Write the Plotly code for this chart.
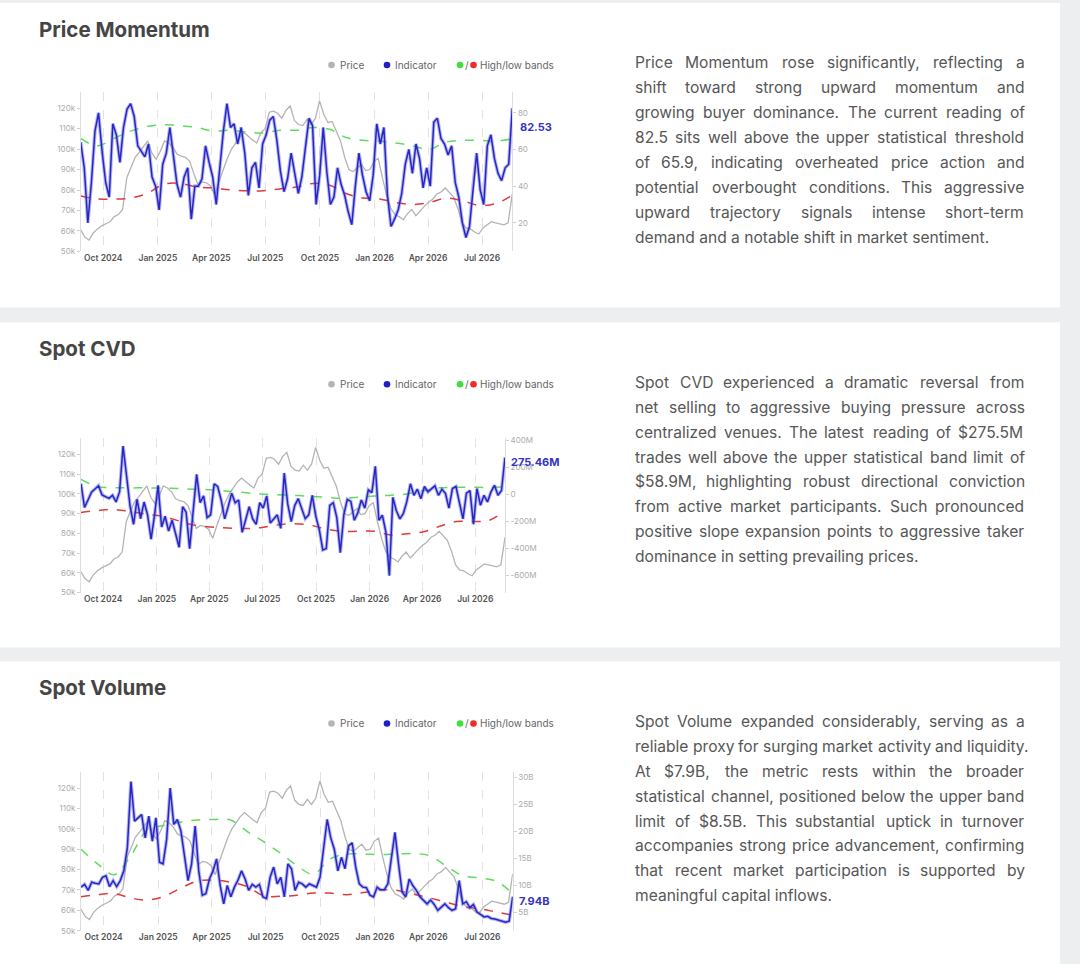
# Three indicator cards (Price Momentum, Spot CVD, Spot Volume), each with a
# dual-axis chart on the left and a commentary paragraph on the right.

import pandas as pd
import plotly.graph_objects as go

W, H = 1080, 964
START, END = "2024-08-24", "2026-08-21"

# BTC price in thousands, roughly weekly (shared by all three charts)
price_k = [60.5, 57, 55.5, 59, 61, 62.5, 63.5, 64.5, 67, 68,
           70.5, 86, 91, 96, 98.5, 101, 104, 98, 95, 99,
           104, 103, 101, 97.5, 96.5, 96, 94, 88, 82.5, 84,
           83.5, 82, 77.5, 84, 90, 95.5, 100, 103, 106, 108,
           106, 104.5, 103, 108, 110, 118, 118.5, 117.5, 115, 119,
           121, 114, 112, 111.5, 114.5, 112, 115, 123.5, 117, 113,
           113.5, 109, 104, 96, 90, 89, 91, 92.5, 89.5, 90,
           94, 95.5, 86, 77.5, 71, 68, 67, 65.5, 68.5, 70.5,
           67.5, 70, 72, 74, 75.5, 78, 79, 81, 79, 76.5,
           71, 64, 61.5, 61, 59.5, 58.5, 61.5, 63, 64.5, 64,
           63.5, 63, 64, 78]

# Price momentum indicator (every ~6 days)
momentum = [64, 50, 20, 42, 70, 80, 59, 42, 34, 74,
            68, 53, 72, 82, 85, 78, 62, 59, 56, 63,
            45, 40, 27, 52, 58, 72, 57, 41, 34, 45,
            50, 22, 40, 40, 44, 62, 53, 45, 30, 52,
            70, 85, 72, 74, 63, 72, 58, 35, 50, 53,
            39, 63, 68, 76, 78, 65, 48, 37, 44, 58,
            48, 36, 45, 60, 77, 73, 30, 46, 72, 48,
            30, 34, 50, 41, 35, 26, 19, 40, 58, 46,
            37, 32, 46, 74, 63, 72, 35, 18, 22, 27,
            36, 52, 60, 47, 63, 55, 39, 50, 40, 75,
            77, 66, 63, 57, 62, 42, 34, 20, 12, 18,
            40, 58, 38, 30, 62, 68, 55, 47, 43, 50,
            52, 82.53]
momentum_high = [66, 62, 66, 70, 72.5, 73.5, 73, 72, 70, 70.5, 69.5, 69, 70.5,
                 70.5, 72, 71, 66.5, 65, 64.5, 63.5, 62, 60, 64, 65, 65, 64.5, 65.9]
momentum_low = [34.6, 33, 33, 33.5, 36, 41, 41.5, 39.5, 39, 38, 37.5, 37.5, 38.5,
                39.5, 41.5, 40.5, 36, 33.5, 33, 31, 30, 31, 33.5, 32, 29.5, 30.5, 35]

# Spot CVD in millions
cvd_m = [81, -95, -40, 18, 42, 66, -2, -15, -28, -5,
         -54, 20, 360, 140, -85, -220, -35, -178, -55, -150,
         -330, -150, 69, -240, -160, -270, -190, -290, -390, -90,
         -130, -400, -120, 150, -60, -10, -170, -150, 80, 60,
         -40, -180, -90, 10, -60, -40, -280, -190, -90, -180,
         -220, -60, -100, -10, -210, -180, -150, -250, 160, -70,
         -200, -80, -30, -104, -178, -150, -5, -160, -260, -410,
         -400, -80, -60, -170, -430, -150, -35, -50, -190, -135,
         -40, -100, 35, 15, 210, -190, -153, -277, -600, -20,
         -120, -180, -140, -50, 80, -5, 40, -30, 60, 20,
         45, 65, -5, 40, 10, -100, 45, 60, -60, -180,
         10, 30, -220, 44, -79, -5, -54, 20, 69, -5,
         30, 275.46]
cvd_high = [113, 60, 52, 50, 50, 48, 45, 40, 35, 25, 15, 5, 0, -5, -12, -20,
            -28, -20, -10, -5, 5, 30, 50, 55, 55, 52, 58.9]
cvd_low = [-133, -118, -110, -125, -145, -160, -195, -228, -240, -248, -252,
           -245, -225, -215, -225, -255, -272, -272, -272, -300, -290, -275,
           -235, -200, -200, -192, -120]

# Spot volume in billions
volume_b = [9.7, 10.2, 9.1, 10.6, 10.4, 10.3, 11.5, 11.8, 9.8, 10.9,
            9.8, 10.9, 12.7, 17.0, 29.2, 21.9, 22.5, 23.1, 18.8, 22.8,
            18.2, 22.5, 14.3, 14.0, 18.5, 28.0, 21.3, 22.2, 20.1, 15.8,
            10.9, 14.0, 21.0, 12.7, 8.2, 8.5, 11.2, 12.7, 14.9, 10.0,
            6.6, 10.0, 7.9, 9.7, 11.0, 12.7, 11.2, 9.1, 10.2, 9.7,
            10.2, 7.9, 7.6, 11.5, 13.4, 10.3, 11.5, 7.9, 14.0, 13.1,
            9.1, 10.6, 10.3, 9.7, 10.3, 10.0, 9.7, 11.5, 16.7, 22.2,
            18.8, 16.7, 12.7, 15.2, 13.1, 17.3, 17.9, 13.4, 10.3, 9.7,
            9.6, 8.2, 7.9, 9.7, 9.2, 9.2, 10.3, 15.2, 19.8, 14.0,
            8.8, 7.9, 11.2, 10.0, 9.1, 7.9, 7.3, 6.6, 7.3, 6.5,
            5.4, 6.0, 6.6, 5.9, 5.4, 5.7, 10.9, 6.6, 7.0, 5.9,
            6.5, 5.1, 4.7, 4.2, 4.3, 3.9, 3.8, 3.6, 3.5, 3.2,
            3.4, 7.94]
volume_high = [16.7, 14.0, 12.0, 15.5, 20.3, 21.1, 21.7, 22.1, 22.2, 22.1, 20.0,
               18.1, 16.0, 13.7, 12.1, 14.9, 15.8, 15.8, 15.7, 15.8, 15.9, 15.5,
               13.6, 11.8, 11.4, 10.8, 8.5]
volume_low = [7.9, 8.3, 8.5, 7.7, 7.3, 8.0, 9.5, 10.8, 11.0, 10.6, 9.8, 8.1, 8.0,
              8.2, 8.6, 8.6, 8.3, 8.7, 9.2, 9.1, 8.4, 7.7, 6.9, 6.1, 5.7, 5.1, 4.5]

price_ticks = [50, 60, 70, 80, 90, 100, 110, 120]
momentum_ticks = [20, 40, 60, 80]
cvd_ticks = [-600, -400, -200, 0, 200, 400]
cvd_ticktext = ["-600M", "-400M", "-200M", "0", "200M", "400M"]
volume_ticks = [5, 10, 15, 20, 25, 30]

momentum_text = [
    "Price Momentum rose significantly, reflecting a",
    "shift toward strong upward momentum and",
    "growing buyer dominance. The current reading of",
    "82.5 sits well above the upper statistical threshold",
    "of 65.9, indicating overheated price action and",
    "potential overbought conditions. This aggressive",
    "upward trajectory signals intense short-term",
    "demand and a notable shift in market sentiment.",
]
cvd_text = [
    "Spot CVD experienced a dramatic reversal from",
    "net selling to aggressive buying pressure across",
    "centralized venues. The latest reading of $275.5M",
    "trades well above the upper statistical band limit of",
    "$58.9M, highlighting robust directional conviction",
    "from active market participants. Such pronounced",
    "positive slope expansion points to aggressive taker",
    "dominance in setting prevailing prices.",
]
volume_text = [
    "Spot Volume expanded considerably, serving as a",
    "reliable proxy for surging market activity and liquidity.",
    "At $7.9B, the metric rests within the broader",
    "statistical channel, positioned below the upper band",
    "limit of $8.5B. This substantial uptick in turnover",
    "accompanies strong price advancement, confirming",
    "that recent market participation is supported by",
    "meaningful capital inflows.",
]

price_dates = pd.date_range(START, END, periods=len(price_k))
ind_dates = pd.date_range(START, END, periods=len(momentum))
band_dates = pd.date_range(START, END, periods=len(momentum_high))

FONT = "Inter"
BLUE = "#2626c4"
TICK_GREY = "#ababab"
BODY_SIZE = 15.6
TEXT_LEFT, TEXT_RIGHT = 634, 1024

# rough advance widths of Inter glyphs (in em), used to justify the paragraphs
_lower = dict(zip("abcdefghijklmnopqrstuvwxyz",
                  [.56, .60, .54, .60, .57, .35, .60, .58, .24, .24, .52, .24,
                   .87, .58, .58, .60, .60, .37, .51, .35, .58, .53, .78, .51,
                   .53, .51]))
_upper = dict(zip("ABCDEFGHIJKLMNOPQRSTUVWXYZ",
                  [.68, .64, .70, .71, .58, .56, .72, .72, .26, .50, .64, .53,
                   .86, .73, .75, .62, .75, .63, .62, .61, .71, .68, .96, .65,
                   .64, .62]))
GLYPH = {**_lower, **_upper, **{d: .61 for d in "0123456789"},
         "$": .61, ".": .27, ",": .27, "-": .42, " ": .28}


def word_width(word):
    return sum(GLYPH.get(c, .55) for c in word) * BODY_SIZE * 1.03


def px(x):
    return x / W


def py(y):
    return 1 - y / H


panels = [
    dict(title="Price Momentum", top=0, bottom=307, ind=momentum,
         hi=momentum_high, lo=momentum_low, text=momentum_text,
         box=(80.7, 89.3, 512.3, 250.5), rng=[4.4, 91.6],
         tickvals=momentum_ticks, ticktext=[str(v) for v in momentum_ticks],
         label=f"{momentum[-1]:.2f}", label_xy=(519, 125)),
    dict(title="Spot CVD", top=322, bottom=650, ind=cvd_m,
         hi=cvd_high, lo=cvd_low, text=cvd_text,
         box=(81, 439, 505, 594.5), rng=[-726, 417],
         tickvals=cvd_ticks, ticktext=cvd_ticktext,
         label=f"{cvd_m[-1]:.2f}M", label_xy=(510, 463)),
    dict(title="Spot Volume", top=664, bottom=980, ind=volume_b,
         hi=volume_high, lo=volume_low, text=volume_text,
         box=(81, 775, 512.7, 935.5), rng=[1.64, 31.05],
         tickvals=volume_ticks, ticktext=[f"{v}B" for v in volume_ticks],
         label=f"{volume_b[-1]:.2f}B", label_xy=(518, 906)),
]

fig = go.Figure()
shapes = []
annotations = []
layout_axes = {}


def body_text(txt, x, y):
    annotations.append(dict(text=txt, x=px(x), y=py(y), xref="paper",
                            yref="paper", xanchor="left", yanchor="middle",
                            showarrow=False, borderpad=0,
                            font=dict(family=FONT, size=BODY_SIZE,
                                      color="#575757")))


for n, p in enumerate(panels):
    xa = "x" if n == 0 else f"x{n + 1}"
    ya = "y" if n == 0 else f"y{2 * n + 1}"
    yb = f"y{2 * n + 2}"
    x0, y0, x1, y1 = p["box"]
    off = p["top"]

    # card background
    shapes.append(dict(type="rect", xref="paper", yref="paper", layer="below",
                       x0=0, x1=px(1060), y0=py(p["bottom"]), y1=py(p["top"]),
                       fillcolor="white", line=dict(width=0)))

    # price on the left axis
    fig.add_trace(go.Scatter(x=price_dates, y=price_k, xaxis=xa, yaxis=ya,
                             mode="lines", line=dict(color="#b4b4b4", width=1.3),
                             hoverinfo="skip"))
    # bands and indicator on the right axis
    fig.add_trace(go.Scatter(x=band_dates, y=p["hi"], xaxis=xa, yaxis=yb,
                             mode="lines", line=dict(color="#5fdc5f", width=1.5,
                                                     dash="dash"),
                             line_shape="spline"))
    fig.add_trace(go.Scatter(x=band_dates, y=p["lo"], xaxis=xa, yaxis=yb,
                             mode="lines", line=dict(color="#e03a3a", width=1.5,
                                                     dash="dash"),
                             line_shape="spline"))
    fig.add_trace(go.Scatter(x=ind_dates, y=p["ind"], xaxis=xa, yaxis=yb,
                             mode="lines", line=dict(color="rgba(95,95,225,0.45)",
                                                     width=3.6),
                             hoverinfo="skip"))
    fig.add_trace(go.Scatter(x=ind_dates, y=p["ind"], xaxis=xa, yaxis=yb,
                             mode="lines", line=dict(color=BLUE, width=1.5)))

    xkey = "xaxis" if n == 0 else f"xaxis{n + 1}"
    ykey = "yaxis" if n == 0 else f"yaxis{2 * n + 1}"
    y2key = f"yaxis{2 * n + 2}"
    layout_axes[xkey] = dict(
        domain=[px(x0), px(x1)], anchor=ya, range=[START, END],
        tick0="2024-10-01", dtick="M3", tickformat="%b %Y",
        showgrid=True, gridcolor="#e2e2e2", griddash="dash", gridwidth=1,
        showline=False, zeroline=False, ticks="",
        tickfont=dict(family=FONT, size=8.5, color="#555", weight=600))
    layout_axes[ykey] = dict(
        domain=[py(y1), py(y0)], anchor=xa, range=[50, 128.1],
        tickvals=price_ticks, ticktext=[f"{v}k" for v in price_ticks],
        showgrid=False, zeroline=False,
        showline=True, linecolor="#dedede", linewidth=1,
        ticks="outside", ticklen=3, tickcolor="#d0d0d0",
        tickfont=dict(family=FONT, size=8, color=TICK_GREY))
    layout_axes[y2key] = dict(
        overlaying=ya, anchor=xa, side="right", range=p["rng"],
        tickvals=p["tickvals"], ticktext=p["ticktext"], showgrid=False,
        zeroline=False, showline=True, linecolor="#dedede", linewidth=1,
        ticks="outside", ticklen=3, tickcolor="#d0d0d0",
        tickfont=dict(family=FONT, size=8, color=TICK_GREY))

    # title
    annotations.append(dict(text=p["title"], x=px(38), y=py(off + 26.5),
                            xref="paper", yref="paper", xanchor="left",
                            yanchor="middle", showarrow=False, borderpad=0,
                            font=dict(family=FONT, size=20.5, color="#454545",
                                      weight=700)))

    # legend
    ly = off + 62.5
    for cx, col in [(331.5, "#b4b4b4"), (387, "#1f1fc8"), (460, "#3ee03e"),
                    (473.5, "#ee2b2b")]:
        r = 3.3
        shapes.append(dict(type="circle", xref="paper", yref="paper",
                           x0=px(cx - r), x1=px(cx + r), y0=py(ly + r),
                           y1=py(ly - r), fillcolor=col, line=dict(width=0)))
    for tx, txt in [(338.5, "Price"), (394, "Indicator"), (464, "/"),
                    (479, "High/low bands")]:
        annotations.append(dict(text=txt, x=px(tx), y=py(ly), xref="paper",
                                yref="paper", xanchor="left", yanchor="middle",
                                showarrow=False, borderpad=0,
                                font=dict(family=FONT, size=10, color="#666")))

    # last value label
    lx, lyy = p["label_xy"]
    annotations.append(dict(text=p["label"], x=px(lx), y=py(lyy),
                            xref="paper", yref="paper", xanchor="left",
                            yanchor="middle", showarrow=False, borderpad=0,
                            font=dict(family=FONT, size=11, color="#3535bd",
                                      weight=700)))

    # commentary, justified except for the last line
    for i, line in enumerate(p["text"]):
        y = off + 60.5 + i * 25.1
        words = line.split(" ")
        if i == len(p["text"]) - 1 or len(words) < 2:
            body_text(line, TEXT_LEFT, y)
            continue
        widths = [word_width(w) for w in words]
        gap = (TEXT_RIGHT - TEXT_LEFT - sum(widths)) / (len(words) - 1)
        gap = max(gap, 3.6)
        x = TEXT_LEFT
        for w, wd in zip(words, widths):
            body_text(w, x, y)
            x += wd + gap

fig.update_layout(
    width=W, height=H, margin=dict(l=0, r=0, t=0, b=0),
    paper_bgcolor="#eceef0", plot_bgcolor="rgba(0,0,0,0)",
    showlegend=False, shapes=shapes, annotations=annotations,
    **layout_axes,
)

fig.write_html("out.html", config={"displayModeBar": False},
               post_script="document.body.style.margin='0';")
